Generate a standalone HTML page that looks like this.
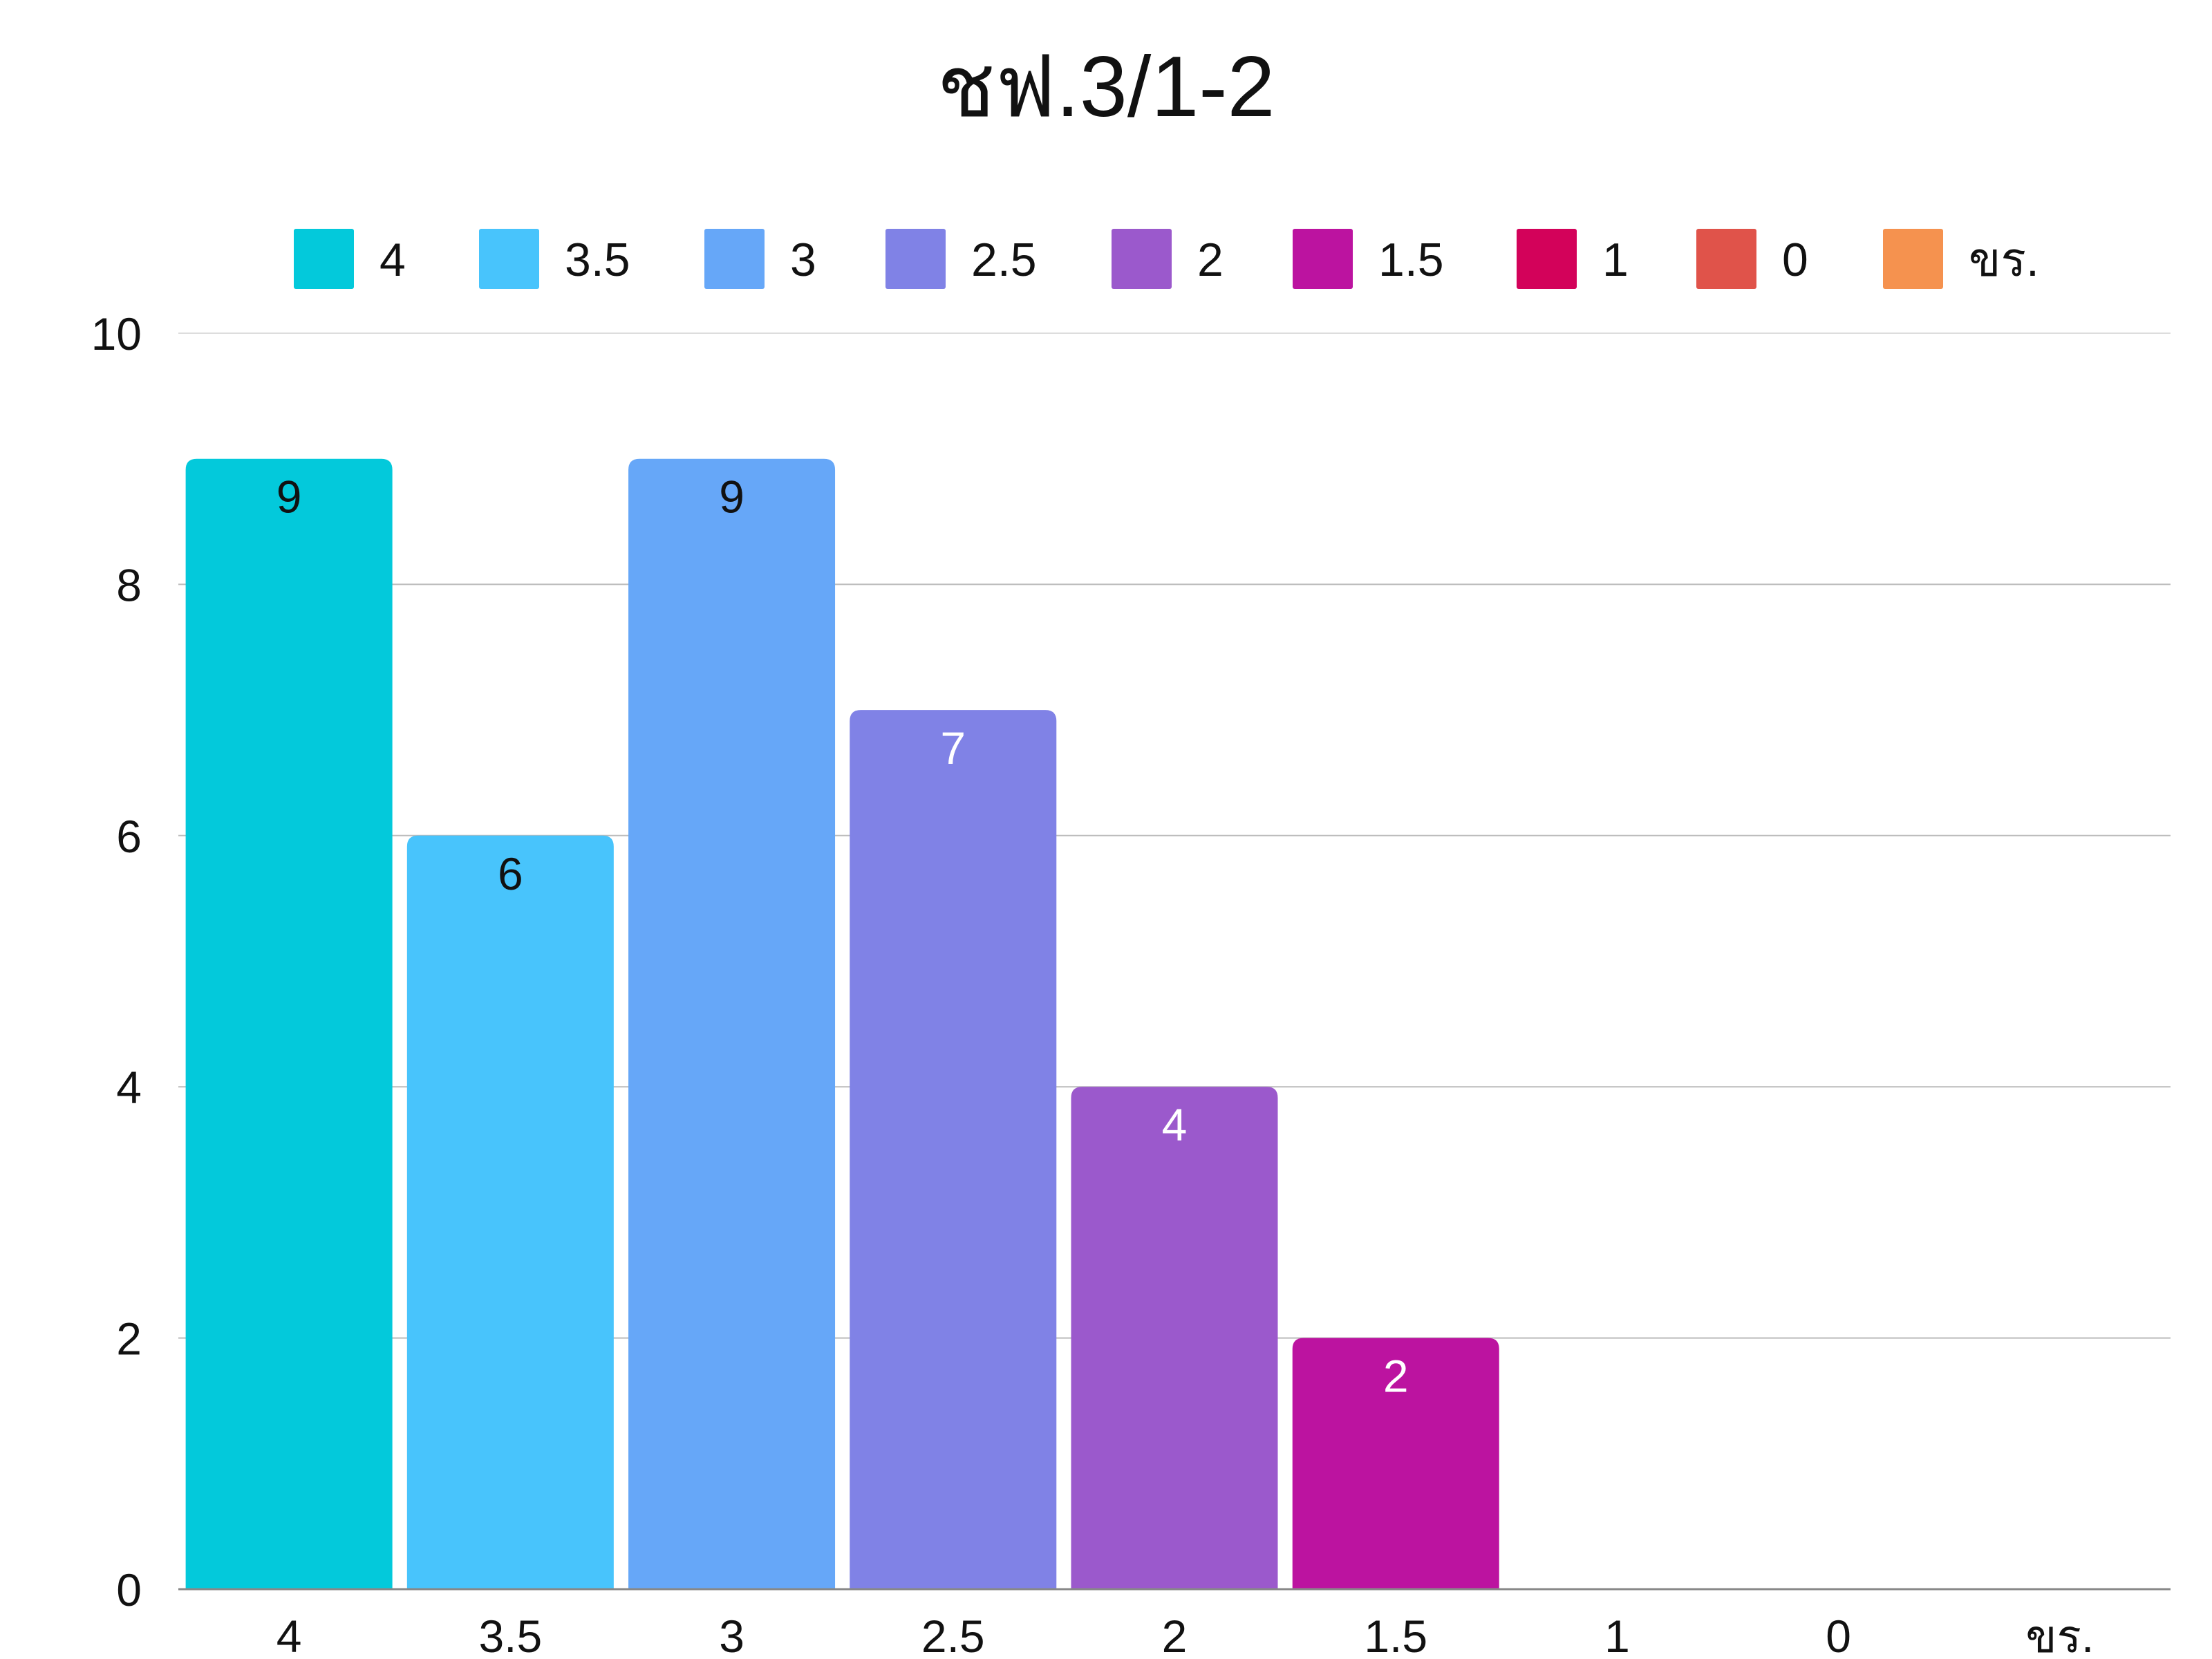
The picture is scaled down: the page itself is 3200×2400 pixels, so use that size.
<!DOCTYPE html>
<html><head><meta charset="utf-8"><style>
html,body{margin:0;padding:0;background:#fff;}
svg{display:block;font-family:"Liberation Sans","Noto Sans CJK SC",sans-serif;}
</style></head><body>
<svg id="chart" width="3200" height="2400" viewBox="0 0 3200 2400" xmlns="http://www.w3.org/2000/svg">
<rect width="3200" height="2400" fill="#fff"/>
<text x="1600" y="168" font-size="124" text-anchor="middle" fill="#111">ชฟ.3/1-2</text>
<g id="grid"></g><g id="bars"></g><g id="legend"></g><g id="axes"></g>
</svg>
<script>
const categories=["4","3.5","3","2.5","2","1.5","1","0","ขร."];
const counts=[9,6,9,7,4,2,0,0,0];
const yTicks=[0,2,4,6,8,10];
const colors=["#03C9DB","#48C4FC","#66A7F8","#8082E6","#9B59CC","#BC13A0","#D3025A","#E0534A","#F5924F"];
const labelColors=["#111","#111","#111","#fff","#fff","#fff","#fff","#fff","#fff"];
const NS="http://www.w3.org/2000/svg";
const X0=258,X1=3140,Y0=2299,Y1=482,YMAX=10;
const band=(X1-X0)/categories.length, bw=299;
const y=v=>Y0-(Y0-Y1)*v/YMAX;
const xc=i=>X0+band*(i+0.5);
function mk(tag,attrs,parent){const e=document.createElementNS(NS,tag);for(const k in attrs)e.setAttribute(k,attrs[k]);parent.appendChild(e);return e;}
const grid=document.getElementById('grid'),bars=document.getElementById('bars'),legend=document.getElementById('legend'),axes=document.getElementById('axes');
yTicks.forEach(t=>{
  if(t>0){const l=mk('line',{x1:X0,x2:X1,y1:y(t),y2:y(t),stroke:t===10?'#ddd':'#bbb','stroke-width':2},grid);
  
  }
  const tx=mk('text',{x:205,y:y(t)+24,'font-size':66,'text-anchor':'end',fill:'#111'},axes);
  tx.textContent=t;
  
  
});
const base=mk('line',{x1:X0,x2:X1,y1:Y0,y2:Y0,stroke:'#888','stroke-width':3},axes);


categories.forEach((c,i)=>{
  const v=counts[i];
  if(v>0){
    const x=xc(i)-bw/2,top=y(v),h=Y0-top,r=16;
    const p=mk('path',{d:`M${x},${Y0} V${top+r} Q${x},${top} ${x+r},${top} H${x+bw-r} Q${x+bw},${top} ${x+bw},${top+r} V${Y0} Z`,fill:colors[i]},bars);
    
    
    const vl=mk('text',{x:xc(i),y:top+78,'font-size':66,'text-anchor':'middle',fill:labelColors[i]},bars);
    vl.textContent=v;
    
    
  }
  const xl=mk('text',{x:xc(i),y:2390,'font-size':66,'text-anchor':'middle',fill:'#111'},axes);
  xl.textContent=c;
  
  
});
const legX=[425,693,1019,1281,1608,1870,2194,2454,2724];
categories.forEach((c,i)=>{
  const g=mk('g',{},legend);
  
  
  mk('rect',{x:legX[i],y:331,width:87,height:87,rx:3,fill:colors[i]},g);
  const t=mk('text',{x:legX[i]+124,y:399,'font-size':68,fill:'#111'},g);
  t.textContent=c;
});
</script>
</body></html>
